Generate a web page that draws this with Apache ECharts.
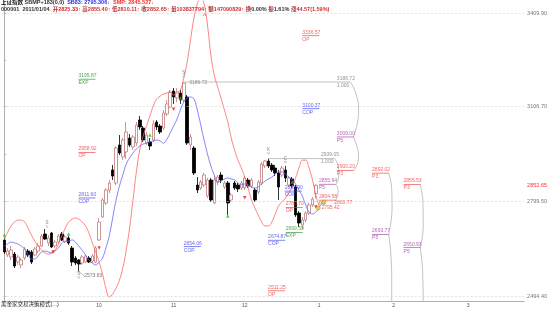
<!DOCTYPE html>
<html>
<head>
<meta charset="utf-8">
<script src="https://cdn.jsdelivr.net/npm/echarts@6/dist/echarts.min.js"></script>
<style>
html, body { margin: 0; padding: 0; background: #fff; }
#main { width: 550px; height: 309px; }
</style>
</head>
<body>
<div id="main"></div>
<script>
// 日K线 [开, 收, 低, 高]
var candles = [
    [2675.6, 2636.8, 2630.3, 2682.1], [2627.1, 2640.0, 2620.6, 2649.7], [2620.6, 2643.3, 2610.9, 2656.2],
    [2630.3, 2591.5, 2585.0, 2636.8], [2604.4, 2620.6, 2594.7, 2627.1], [2594.7, 2610.9, 2585.0, 2617.4],
    [2617.4, 2646.5, 2610.9, 2653.0], [2640.0, 2627.1, 2620.6, 2646.5], [2636.8, 2604.4, 2597.9, 2643.3],
    [2627.1, 2646.5, 2623.8, 2653.0], [2640.0, 2656.2, 2633.5, 2665.9], [2656.2, 2688.5, 2653.0, 2695.0],
    [2695.0, 2678.8, 2675.6, 2711.2], [2665.9, 2682.1, 2656.2, 2691.8], [2698.2, 2653.0, 2649.7, 2701.5],
    [2656.2, 2669.1, 2649.7, 2675.6], [2669.1, 2688.5, 2662.7, 2695.0], [2695.0, 2675.6, 2672.4, 2701.5],
    [2669.1, 2685.3, 2665.9, 2691.8], [2682.1, 2665.9, 2659.4, 2688.5], [2649.7, 2604.4, 2591.5, 2656.2],
    [2617.4, 2601.2, 2594.7, 2623.8], [2610.9, 2597.9, 2573.8, 2614.1], [2601.2, 2620.6, 2594.7, 2627.1],
    [2604.4, 2623.8, 2601.2, 2627.1], [2617.4, 2604.4, 2601.2, 2623.8], [2607.7, 2623.8, 2601.2, 2630.3],
    [2604.4, 2649.7, 2601.2, 2656.2], [2675.6, 2733.8, 2672.4, 2746.8], [2750.0, 2805.0, 2746.8, 2811.5],
    [2795.3, 2837.4, 2788.8, 2843.8], [2837.4, 2860.0, 2827.6, 2869.7], [2902.1, 2882.6, 2869.7, 2918.2],
    [2860.0, 2973.2, 2853.5, 2979.7], [2982.9, 2957.1, 2950.6, 3015.3], [2944.1, 2999.1, 2934.4, 3005.6],
    [2960.3, 3025.0, 2937.6, 3057.3], [3005.6, 2982.9, 2976.5, 3018.5], [2976.5, 3008.8, 2966.8, 3015.3],
    [2989.4, 3047.6, 2979.7, 3057.3], [3063.8, 3041.2, 3031.5, 3076.7], [3037.9, 2999.1, 2992.6, 3044.4],
    [2989.4, 3015.3, 2982.9, 3025.0], [2992.6, 2979.7, 2966.8, 3005.6], [2999.1, 3050.9, 2992.6, 3063.8],
    [3057.3, 3041.2, 3031.5, 3063.8], [3044.4, 3025.0, 3018.5, 3050.9], [3037.9, 3086.4, 3031.5, 3096.2],
    [3083.2, 3115.6, 3076.7, 3128.5], [3105.9, 3154.4, 3102.6, 3160.9], [3157.6, 3138.2, 3115.6, 3167.3],
    [3135.0, 3154.4, 3122.0, 3167.3], [3151.1, 3128.5, 3115.6, 3160.9], [3128.5, 3183.5, 3122.0, 3186.72],
    [3138.2, 2989.4, 2982.9, 3144.7], [2982.9, 3008.8, 2966.8, 3018.5], [2973.2, 2892.3, 2885.9, 2979.7],
    [2853.5, 2837.4, 2827.6, 2879.4], [2843.8, 2863.2, 2837.4, 2869.7], [2853.5, 2885.9, 2847.1, 2892.3],
    [2817.9, 2869.7, 2811.5, 2876.2], [2869.7, 2805.0, 2798.5, 2876.2], [2795.3, 2869.7, 2792.1, 2882.6],
    [2863.2, 2879.4, 2853.5, 2885.9], [2885.9, 2869.7, 2860.0, 2895.6], [2847.1, 2860.0, 2840.6, 2866.5],
    [2860.0, 2795.3, 2756.5, 2866.5], [2805.0, 2821.2, 2798.5, 2827.6], [2860.0, 2843.8, 2837.4, 2866.5],
    [2853.5, 2840.6, 2830.9, 2860.0], [2843.8, 2860.0, 2837.4, 2866.5], [2843.8, 2876.2, 2837.4, 2882.6],
    [2869.7, 2850.3, 2843.8, 2876.2], [2850.3, 2869.7, 2843.8, 2876.2], [2837.4, 2805.0, 2798.5, 2843.8],
    [2830.9, 2863.2, 2824.4, 2869.7], [2860.0, 2921.5, 2853.5, 2927.9], [2915.0, 2931.2, 2908.5, 2934.4],
    [2931.2, 2915.0, 2908.5, 2939.05], [2918.2, 2902.1, 2895.6, 2924.7], [2908.5, 2892.3, 2882.6, 2918.2],
    [2892.3, 2847.1, 2805.0, 2902.1], [2885.9, 2908.5, 2879.4, 2915.0], [2902.1, 2876.2, 2863.2, 2915.0],
    [2853.5, 2876.2, 2847.1, 2882.6], [2872.9, 2850.3, 2843.8, 2879.4], [2847.1, 2756.5, 2750.0, 2853.5],
    [2762.9, 2730.6, 2717.7, 2769.4], [2724.1, 2740.3, 2711.2, 2750.0], [2740.3, 2762.9, 2733.8, 2769.4],
    [2762.9, 2788.8, 2756.5, 2795.3], [2788.8, 2808.1, 2782.4, 2814.7], [2825.33, 2852.65, 2810.11, 2855.40]
];

// SB83 (蓝线)
var sb83 = [
    2656, 2663, 2669, 2666, 2663, 2656, 2647, 2630, 2614, 2614, 2624, 2637, 2640, 2637, 2634, 2640,
    2650, 2666, 2672, 2672, 2676, 2669, 2656, 2643, 2627, 2611, 2601, 2595, 2604, 2617, 2650, 2689,
    2747, 2805, 2850, 2886, 2921, 2941, 2957, 2970, 2980, 2986, 2989, 2993, 2996, 2999, 2996, 2989,
    3002, 3022, 3044, 3067, 3096, 3122, 3135, 3138, 3132, 3096, 3048, 2999, 2954, 2915, 2886, 2863,
    2866, 2873, 2876, 2873, 2870, 2860, 2854, 2857, 2854, 2847, 2844, 2847, 2857, 2866, 2873, 2879,
    2889, 2896, 2896, 2889, 2879, 2870, 2857, 2837, 2818, 2789, 2766, 2760, 2766, 2782, 2795.3
];

// SMP (红线)
var smp = [
    2676, 2701, 2721, 2734, 2740, 2740, 2734, 2714, 2692, 2672, 2656, 2643, 2634, 2630, 2634, 2643,
    2663, 2689, 2714, 2734, 2743, 2747, 2743, 2734, 2721, 2698, 2666, 2637, 2604, 2566, 2520, 2491,
    2501, 2520, 2546, 2585, 2643, 2714, 2805, 2896, 2967, 3012, 3044, 3077, 3109, 3132, 3141, 3148,
    3151, 3154, 3145, 3151, 3161, 3200, 3251, 3323, 3394, 3440, 3462, 3440, 3371, 3274, 3209, 3171,
    3135, 3096, 3057, 3006, 2967, 2934, 2909, 2879, 2844, 2805, 2779, 2756, 2734, 2721, 2721, 2734,
    2760, 2786, 2799, 2811, 2828, 2847, 2876, 2908, 2934, 2934, 2908, 2870, 2821, 2783
];

var catCount = 154;
var xLabelPos = [28, 50, 71, 93, 115, 137];
var xLabelText = ['10', '11', '12', '1', '2', '3'];
var yGridValues = [2494.4, 2799.5, 3106.7, 3409.9];
var yTickValues = [2494.4, 2647.0, 2799.5, 2953.1, 3106.7, 3258.3, 3409.9];
var lastClose = 2852.65;

// 画线标注 [x序号, 价位文字, 类型]
var fibNotes = [
    [21.9, '3195.87', 'EXP'], [21.9, '2958.92', 'OP'], [21.9, '2811.60', 'COP'],
    [53.0, '2654.06', 'COP'], [88.0, '3336.57', 'OP'], [88.0, '3100.37', 'COP'],
    [82.8, '2833.90', 'COP'], [83.1, '2780.70', 'OP'], [83.1, '2699.59', 'EXP'],
    [77.9, '2674.87', 'COP'], [77.9, '2511.25', 'OP'],
    [98.2, '3009.00', 'P5'], [98.2, '2900.20', 'P3'],
    [92.9, '2855.94', 'P5'], [92.9, '2804.58', 'P3'],
    [108.6, '2892.02', 'P3'], [108.6, '2693.77', 'P5'],
    [117.9, '2855.53', 'P3'], [117.9, '2650.93', 'P5']
];
// 灰色水平线 [起, 止, 价位]
var fibLevels = [[53, 102.2, 3186.72], [78, 97.5, 2939.05]];
var greyNotes = [[54.6, '3186.72', ''], [98.2, '3186.72', '1.000'], [93.5, '2939.05', '1.000']];
var lowNote = [23.6, 2560, '2573.83'];
// 大括号曲线
var braces = [
    [[102.2, 3186.7], [103.8, 3150], [104.6, 3095], [104.2, 3050], [103.1, 3009]],
    [[103.1, 3009], [104.2, 2975], [104.6, 2945], [104.0, 2915], [103.1, 2900.2]],
    [[97.5, 2939.05], [98.6, 2915], [98.8, 2885], [98.0, 2856]],
    [[97.9, 2855.9], [98.6, 2835], [98.3, 2815], [97.9, 2804.6]],
    [[113.5, 2892], [114.4, 2840], [114.5, 2780], [113.5, 2694]],
    [[113.5, 2694], [114.2, 2620], [114.4, 2540], [114.4, 2470]],
    [[122.8, 2855.5], [123.6, 2800], [123.7, 2720], [122.8, 2651]],
    [[122.8, 2651], [123.5, 2580], [123.7, 2470]]
];
var buyPts = [[0, 2692], [19, 2695], [43, 3015], [52, 3135], [66, 2753], [85, 2863]];
var sellPts = [[14.4, 2637], [28, 2650], [50, 3099], [71, 2812], [92, 2782]];
var letterPts = [[12.6, 2719, 'S'], [22, 2555, 'S'], [53, 3206, 'S'], [78, 2957, 'K'], [83, 2928, 'C']];
var yellowPts = [[92.7, 2779, '2795.42'], [94.4, 2798, '2800.77']];

var quoteNames = ['开', '高', '低', '收', '量', '额'];
var quoteValues = ['2825.33', '2855.40', '2810.11', '2852.65', '103837794', '147090829'];

var FONT = 'Liberation Sans, Noto Sans CJK SC, sans-serif';
var tagColor = { EXP: '#2e8b2e', OP: '#f03a3a', COP: '#3a3af0', P5: '#a040a0', P3: '#f03a3a' };

var chart = echarts.init(document.getElementById('main'), null, { renderer: 'canvas' });

var cats = [];
for (var i = 0; i < catCount; i++) cats.push('');
xLabelPos.forEach(function (p, k) { cats[p] = xLabelText[k]; });

var line2 = '{d|000001  2011/01/04}  ' + quoteNames.map(function (n, k) {
    return '{n|' + n + '}{v|' + quoteValues[k] + '↑}';
}).join(' ') + ' {n|换}{d|0.00%} {n|振}{d|1.61%} {n|涨}{v|44.57(1.59%)}';

var series = [];

series.push({
    type: 'candlestick',
    data: candles,
    barWidth: 3,
    itemStyle: {
        color: '#fff', color0: '#000',
        borderColor: '#c27a7a', borderColor0: '#000', borderWidth: 0.8
    },
    markLine: {
        silent: true, symbol: 'none', animation: false,
        label: { show: false },
        lineStyle: { color: '#cfcfcf', type: [2, 2], width: 0.6 },
        data: yGridValues.map(function (v) { return { yAxis: v }; })
    }
});

series.push({
    type: 'line', xAxisIndex: 1, smooth: 0.4, symbol: 'none',
    data: sb83.map(function (v, k) { return [k, v]; }),
    lineStyle: { color: '#6464ff', width: 0.8 }
});
series.push({
    type: 'line', xAxisIndex: 1, smooth: 0.4, symbol: 'none',
    data: smp.map(function (v, k) { return [k, v]; }),
    lineStyle: { color: '#ff6464', width: 0.8 }
});

fibLevels.forEach(function (f) {
    series.push({
        type: 'line', xAxisIndex: 1, symbol: 'none', silent: true,
        data: [[f[0], f[2]], [f[1], f[2]]],
        lineStyle: { color: '#a8a8a8', width: 0.7 }
    });
});
braces.forEach(function (b) {
    series.push({
        type: 'line', xAxisIndex: 1, symbol: 'none', smooth: 0.5, silent: true,
        data: b, lineStyle: { color: '#a8a8a8', width: 0.7 }
    });
});
series.push({
    type: 'line', xAxisIndex: 1, symbol: 'none', silent: true,
    data: [[22, 2573.83], [lowNote[0], lowNote[1]]],
    lineStyle: { color: '#888', width: 0.6 }
});

// 标注文字
series.push({
    type: 'scatter', xAxisIndex: 1, symbolSize: 0, silent: true, z: 5,
    data: fibNotes.map(function (a) {
        var c = tagColor[a[2]];
        return {
            value: [a[0], parseFloat(a[1])],
            label: {
                show: true, position: 'right', distance: 0,
                formatter: '{v|' + a[1] + '}\n{u|}\n{t|' + a[2] + '}',
                rich: {
                    v: { fontSize: 5, lineHeight: 6, color: c, fontFamily: FONT },
                    u: { width: 17, height: 0.8, lineHeight: 1, backgroundColor: c },
                    t: { fontSize: 5, lineHeight: 6, color: c, fontFamily: FONT }
                }
            }
        };
    })
});
series.push({
    type: 'scatter', xAxisIndex: 1, symbolSize: 0, silent: true, z: 5,
    data: greyNotes.map(function (g) {
        return {
            value: [g[0], parseFloat(g[1])],
            label: {
                show: true, position: 'right', distance: 0,
                formatter: g[2] ? '{v|' + g[1] + '}\n{t|' + g[2] + '}' : '{v|' + g[1] + '}',
                offset: g[2] ? [0, 0] : [0, 1],
                rich: {
                    v: { fontSize: 5, lineHeight: 7, color: '#777', fontFamily: FONT },
                    t: { fontSize: 5, lineHeight: 7, color: '#777', fontFamily: FONT }
                }
            }
        };
    }).concat([{
        value: [lowNote[0], lowNote[1]],
        label: { show: true, position: 'right', distance: 0, formatter: lowNote[2], fontSize: 5, color: '#555', fontFamily: FONT }
    }])
});

series.push({
    type: 'scatter', xAxisIndex: 1, symbol: 'triangle', symbolSize: 3.5, silent: true, z: 6,
    data: buyPts, itemStyle: { color: '#18c818' }
});
series.push({
    type: 'scatter', xAxisIndex: 1, symbol: 'triangle', symbolRotate: 180, symbolSize: 3.5, silent: true, z: 6,
    data: sellPts, itemStyle: { color: '#f01818' }
});
series.push({
    type: 'scatter', xAxisIndex: 1, symbol: 'circle', symbolSize: 2, silent: true, z: 6,
    itemStyle: { color: '#fff', borderColor: '#888', borderWidth: 0.5 },
    data: letterPts.map(function (l) { return { value: [l[0], l[1]], name: l[2] }; }),
    label: { show: true, position: 'top', distance: 0, formatter: '{b}', fontSize: 4.5, color: '#666', fontFamily: FONT }
});
series.push({
    type: 'scatter', xAxisIndex: 1, symbol: 'circle', symbolSize: 4, silent: true, z: 6,
    itemStyle: { color: '#e6d21e', borderColor: '#8a7a20', borderWidth: 0.5 },
    data: yellowPts.map(function (p, k) {
        return {
            value: [p[0], p[1]], name: p[2],
            label: { show: true, position: 'right', distance: k ? 8 : 1, formatter: '{b}', fontSize: 5, color: '#f03a3a', fontFamily: FONT }
        };
    })
});

var option = {
    backgroundColor: '#fff',
    animation: false,
    textStyle: { fontFamily: FONT },
    title: [
        {
            left: 1, top: 0, padding: 0,
            text: '{k|上证指数} {d|SBMP+183(0,0)}  {b|SB83: 2795.306↓}  {r|SMP: 2845.527↓}',
            textStyle: {
                fontSize: 5.5,
                rich: {
                    k: { fontSize: 5.5, color: '#222', fontFamily: FONT },
                    d: { fontSize: 5.5, color: '#333', fontFamily: FONT },
                    b: { fontSize: 5.5, color: '#3030e0', fontFamily: FONT },
                    r: { fontSize: 5.5, color: '#f03030', fontFamily: FONT }
                }
            }
        },
        {
            left: 1, top: 7, padding: 0, text: line2,
            textStyle: {
                fontSize: 5.5,
                rich: {
                    d: { fontSize: 5.5, color: '#333', fontFamily: FONT },
                    n: { fontSize: 5.5, color: '#b03030', fontFamily: FONT },
                    v: { fontSize: 5.5, color: '#d03030', fontFamily: FONT }
                }
            }
        },
        { left: 203, top: 13, padding: 0, text: '^', textStyle: { fontSize: 7, color: '#f03030', fontWeight: 'normal' } },
        { left: 1, top: 302, padding: 0, text: '黑金家交易决策模式(...)', textStyle: { fontSize: 5.5, color: '#222', fontWeight: 'normal', fontFamily: FONT } }
    ],
    grid: { left: 2.6, right: 16.1, top: 1, bottom: 8, show: false },
    xAxis: [
        {
            type: 'category', data: cats, boundaryGap: true,
            axisLine: { lineStyle: { color: '#999', width: 0.8 } },
            axisTick: {
                length: 2, lineStyle: { color: '#999', width: 0.6 },
                interval: function (idx) { return idx % 5 === 0; }
            },
            axisLabel: { interval: 0, fontSize: 5, color: '#555', margin: 2, fontFamily: FONT },
            splitLine: { show: false }
        },
        { type: 'value', min: -0.5, max: catCount - 0.5, show: false }
    ],
    yAxis: {
        type: 'value', position: 'right', min: 2478.3, max: 3448.8, scale: true,
        axisLine: { show: true, lineStyle: { color: '#999', width: 0.8 } },
        axisTick: { show: true, length: 2, customValues: yTickValues, lineStyle: { color: '#999', width: 0.6 } },
        axisLabel: {
            customValues: yGridValues.concat([lastClose]),
            fontSize: 5.5, color: '#777', margin: 3, fontFamily: FONT,
            formatter: function (v) {
                return Math.abs(v - lastClose) < 0.01 ? '{r|' + v.toFixed(2) + '}' : v.toFixed(2);
            },
            rich: { r: { fontSize: 5.5, color: '#ff3030', fontFamily: FONT } }
        },
        splitLine: { show: false }
    },
    series: series
};

chart.setOption(option);
</script>
</body>
</html>
